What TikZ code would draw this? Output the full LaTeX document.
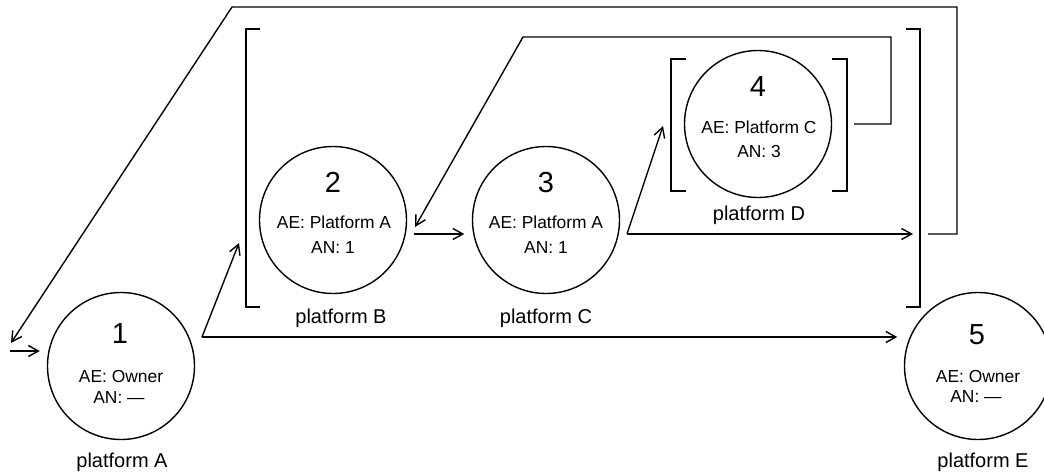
\documentclass[tikz,border=0pt]{standalone}
\usepackage{fontspec}
\setmainfont{Liberation Sans}
\usetikzlibrary{arrows.meta}

\begin{document}
\begin{tikzpicture}[x=1pt,y=-1pt,line width=1.4pt,
    >={Straight Barb[length=10pt,width=11pt]},
    stn/.style={draw,circle,minimum size=147pt,inner sep=0pt},
    num/.style={anchor=base,font=\fontsize{29}{30}\selectfont},
    info/.style={anchor=base,font=\fontsize{17.4}{20}\selectfont},
    plat/.style={anchor=base,font=\fontsize{20}{24}\selectfont}]
  \useasboundingbox (0,0) rectangle (1044,474);

  % platforms
  \node[stn] (p1) at (121,366) {};
  \node[stn] (p2) at (333,220) {};
  \node[stn] (p3) at (546,220) {};
  \node[stn] (p4) at (758,124) {};
  \node[stn] (p5) at (978,366) {};

  \node[num] (n1) at (120,343) {1};
  \node[info] (ae1) at (121,382) {AE: Owner};
  \node[info] (an1) at (119,403) {AN: —};
  \node[plat] (l1) at (122,467) {platform A};

  \node[num] (n2) at (333,192) {2};
  \node[info] (ae2) at (334,228) {AE: Platform A};
  \node[info] (an2) at (333,253) {AN: 1};
  \node[plat] (l2) at (341,323) {platform B};

  \node[num] (n3) at (546,192) {3};
  \node[info] (ae3) at (546,228) {AE: Platform A};
  \node[info] (an3) at (546,253) {AN: 1};
  \node[plat] (l3) at (546,323) {platform C};

  \node[num] (n4) at (758,96) {4};
  \node[info] (ae4) at (759,133) {AE: Platform C};
  \node[info] (an4) at (759,157) {AN: 3};
  \node[plat] (l4) at (759,220) {platform D};

  \node[num] (n5) at (977,344) {5};
  \node[info] (ae5) at (978,382) {AE: Owner};
  \node[info] (an5) at (976,402) {AN: —};
  \node[plat] (l5) at (983,467) {platform E};

  % brackets
  \draw (260,29) -- (246,29) -- (246,307) -- (260,307);
  \draw (906,29) -- (920,29) -- (920,307) -- (906,307);
  \draw (686,59) -- (671,59) -- (671,191) -- (686,191);
  \draw (832,59) -- (847,59) -- (847,191) -- (832,191);

  % connectors
  \coordinate (in) at (10,351);
  \coordinate (j1) at (202,337);
  \coordinate (b1) at (239,243);
  \coordinate (k2) at (414,234);
  \coordinate (j3) at (627,234);
  \coordinate (b4) at (663,126);
  \coordinate (b5) at (913,234);
  \coordinate (o4) at (854,124);
  \coordinate (t2) at (415,227);
  \coordinate (o5) at (928,234);
  \coordinate (t1) at (11,343);

  \draw[->,shorten >=7pt] (in) -- (p1.west |- in);
  \draw[->] (j1) -- (b1);
  \draw[->,shorten >=6.5pt] (j1) -- (p5.west |- j1);
  \draw[->,shorten >=7.5pt] (k2) -- (p3.west |- k2);
  \draw[->] (j3) -- (b4);
  \draw[->] (j3) -- (b5);
  \draw[->] (o4) -- (891,124) -- (891,37) -- (523,37) -- (t2);
  \draw[->] (o5) -- (957,234) -- (957,7) -- (232,7) -- (t1);
\end{tikzpicture}
\end{document}
